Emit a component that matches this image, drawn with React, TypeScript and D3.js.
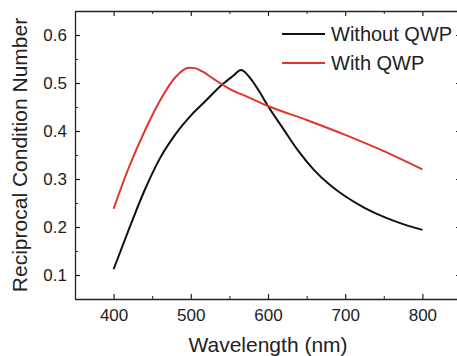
import React, { useEffect, useRef } from 'react';
import * as d3 from 'd3';

// Without QWP (black)
const noQwpNm = [400, 420, 440, 460, 480, 500, 520, 540, 555, 565, 570, 577, 590, 600, 620, 640, 660, 680, 700, 725, 750, 775, 800];
const noQwpVal = [0.112, 0.196, 0.276, 0.343, 0.393, 0.432, 0.464, 0.496, 0.515, 0.527, 0.523, 0.51, 0.479, 0.452, 0.404, 0.357, 0.318, 0.288, 0.264, 0.24, 0.221, 0.206, 0.194];

// With QWP (red)
const qwpNm = [400, 420, 440, 460, 480, 490, 497, 505, 515, 530, 550, 575, 600, 650, 700, 750, 800];
const qwpVal = [0.238, 0.325, 0.399, 0.463, 0.512, 0.527, 0.532, 0.531, 0.524, 0.508, 0.488, 0.47, 0.452, 0.423, 0.392, 0.358, 0.32];

const xTicks = [400, 500, 600, 700, 800];
const xMinor = [350, 450, 550, 650, 750, 850];
const yTicks = [0.1, 0.2, 0.3, 0.4, 0.5, 0.6];
const yMinor = [0.05, 0.15, 0.25, 0.35, 0.45, 0.55, 0.65];

const seriesNames = ['Without QWP', 'With QWP'];
const seriesColors = ['#111111', '#e3342b'];

const W = 457;
const H = 356;
const FONT = '"Liberation Sans", Arial, Helvetica, sans-serif';

export default function App() {
  const svgRef = useRef<SVGSVGElement>(null);

  useEffect(() => {
    const svg = d3.select(svgRef.current);
    svg.selectAll('*').remove();

    const left = 75, right = 461, top = 11, bottom = 299;
    const x = d3.scaleLinear().domain([350, 850]).range([left, right]);
    const y = d3.scaleLinear().domain([0.05, 0.65]).range([bottom, top]);

    const axisColor = '#222';

    const styleAxis = (g: any) => {
      g.select('.domain').attr('stroke', axisColor).attr('stroke-width', 1.3);
      g.selectAll('.tick line').attr('stroke', axisColor).attr('stroke-width', 1.2);
      g.selectAll('text').attr('font-family', FONT).attr('font-size', 17).attr('fill', '#222');
    };
    const minorStyle = (g: any) => {
      g.select('.domain').remove();
      g.selectAll('line').attr('stroke', axisColor);
    };

    // bottom
    const gb = svg.append('g').attr('transform', `translate(0,${bottom})`)
      .call(d3.axisBottom(x).tickValues(xTicks).tickSizeInner(-5).tickSizeOuter(0).tickPadding(10).tickFormat(d3.format('d')));
    styleAxis(gb);
    svg.append('g').attr('transform', `translate(0,${bottom})`)
      .call(d3.axisBottom(x).tickValues(xMinor).tickSizeInner(-3).tickSizeOuter(0).tickFormat(() => ''))
      .call(minorStyle);

    // top
    const gt = svg.append('g').attr('transform', `translate(0,${top})`)
      .call(d3.axisTop(x).tickValues(xTicks).tickSizeInner(-5).tickSizeOuter(0).tickFormat(() => ''));
    styleAxis(gt);
    svg.append('g').attr('transform', `translate(0,${top})`)
      .call(d3.axisTop(x).tickValues(xMinor).tickSizeInner(-3).tickSizeOuter(0).tickFormat(() => ''))
      .call(minorStyle);

    // left
    const gl = svg.append('g').attr('transform', `translate(${left},0)`)
      .call(d3.axisLeft(y).tickValues(yTicks).tickSizeInner(-5).tickSizeOuter(0).tickPadding(8).tickFormat(d3.format('.1f')));
    styleAxis(gl);
    svg.append('g').attr('transform', `translate(${left},0)`)
      .call(d3.axisLeft(y).tickValues(yMinor).tickSizeInner(-3).tickSizeOuter(0).tickFormat(() => ''))
      .call(minorStyle);

    // right
    const gr = svg.append('g').attr('transform', `translate(${right},0)`)
      .call(d3.axisRight(y).tickValues(yTicks).tickSizeInner(-5).tickSizeOuter(0).tickFormat(() => ''));
    styleAxis(gr);
    svg.append('g').attr('transform', `translate(${right},0)`)
      .call(d3.axisRight(y).tickValues(yMinor).tickSizeInner(-3).tickSizeOuter(0).tickFormat(() => ''))
      .call(minorStyle);

    const line = d3.line<[number, number]>()
      .x(d => x(d[0]))
      .y(d => y(d[1]))
      .curve(d3.curveMonotoneX);

    const series = [
      d3.zip(noQwpNm, noQwpVal) as [number, number][],
      d3.zip(qwpNm, qwpVal) as [number, number][],
    ];

    series.forEach((s, i) => {
      svg.append('path')
        .datum(s)
        .attr('fill', 'none')
        .attr('stroke', seriesColors[i])
        .attr('stroke-width', 2)
        .attr('stroke-linejoin', 'round')
        .attr('d', line);
    });

    // legend
    const legend = svg.append('g');
    seriesNames.forEach((name, i) => {
      const ly = 34 + i * 29;
      legend.append('line')
        .attr('x1', 282).attr('x2', 325).attr('y1', ly).attr('y2', ly)
        .attr('stroke', seriesColors[i]).attr('stroke-width', 2);
      legend.append('text')
        .attr('x', 331).attr('y', ly + 7)
        .attr('font-family', FONT).attr('font-size', 20).attr('fill', '#222')
        .text(name);
    });

    // axis titles
    svg.append('text')
      .attr('x', (left + right) / 2).attr('y', 352)
      .attr('text-anchor', 'middle')
      .attr('font-family', FONT).attr('font-size', 21).attr('fill', '#222')
      .text('Wavelength (nm)');

    svg.append('text')
      .attr('transform', `translate(27,155) rotate(-90)`)
      .attr('text-anchor', 'middle')
      .attr('font-family', FONT).attr('font-size', 21).attr('fill', '#222')
      .text('Reciprocal Condition Number');
  }, []);

  return (
    <svg
      ref={svgRef}
      width={W}
      height={H}
      style={{ position: 'absolute', left: 0, top: 0, background: '#fff' }}
    />
  );
}
